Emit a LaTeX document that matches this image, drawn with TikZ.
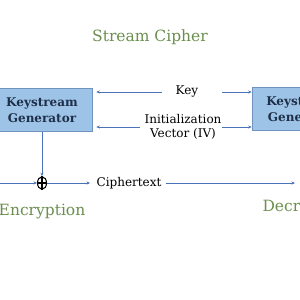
\documentclass[tikz,border=0pt]{standalone}
\usepackage{fontspec}
\setmainfont{DejaVu Serif}
\usetikzlibrary{arrows.meta,shapes.geometric}
\definecolor{boxfill}{HTML}{9DC3E6}
\definecolor{boxline}{HTML}{6F93BD}
\definecolor{boxtext}{HTML}{1F2F4A}
\definecolor{arr}{HTML}{4A72B8}
\definecolor{grn}{HTML}{6B8E4E}
\tikzset{
  genbox/.style={draw=boxline, fill=boxfill, line width=0.6pt, minimum width=100pt, minimum height=43pt, align=center, text=boxtext, font=\fontsize{12}{15.5}\selectfont\bfseries, inner sep=0pt},
  conn/.style={draw=arr, line width=0.8pt, -{Stealth[length=3.5pt,width=3pt]}},
  lbl/.style={font=\fontsize{12}{14}\selectfont, text=black, align=center, inner sep=0pt},
  ttl/.style={font=\fontsize{15.5}{18}\selectfont, text=grn, inner sep=0pt}
}
\begin{document}
\begin{tikzpicture}[x=1pt,y=-1pt]
\useasboundingbox (0,0) rectangle (300,300);
\node[ttl] (title) at (150,37) {Stream Cipher};
\node[genbox] (gl) at (42,110) {Keystream\\Generator};
\node[genbox] (gr) at (302,109) {Keystream\\Generator};
\node[lbl] (key) at (187,91) {Key};
\node[lbl] (iv) at (183,127) {Initialization\\Vector (IV)};
\coordinate (kL) at (162,92);
\coordinate (kR) at (222,92);
\coordinate (vL) at (140,127);
\coordinate (vR) at (222,127);
\node[draw=black, ellipse, line width=1.1pt, minimum width=9pt, minimum height=12.5pt, inner sep=0pt] (x) at (42,183) {};
\draw[black, line width=1.1pt] (x.north) -- (x.south) (x.west) -- (x.east);
\coordinate (inL) at (-2,183);
\coordinate (cA) at (90,183);
\node[lbl] (ct) at (129,183) {Ciphertext};
\coordinate (cB) at (295,183);
\node[ttl] (enc) at (42,212) {Encryption};
\node[ttl] (dec) at (306,208) {Decryption};
\draw[conn] (kL) -- ([xshift=4pt]gl.east |- kL);
\draw[conn] (kR) -- (gr.west |- kR);
\draw[conn] (vL) -- ([xshift=4pt]gl.east |- vL);
\draw[conn] (vR) -- (gr.west |- vR);
\draw[conn] (gl.south -| x) -- (x.north);
\draw[conn] (inL) -- (x.west);
\draw[conn] (x.east) -- (cA);
\draw[conn] ([xshift=4pt]ct.east) -- (cB);
\end{tikzpicture}
\end{document}
